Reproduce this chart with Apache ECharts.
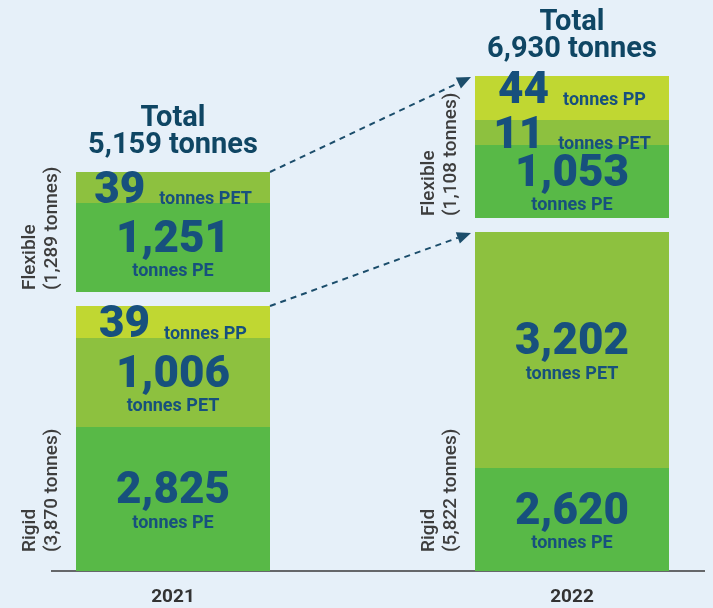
<!DOCTYPE html>
<html>
<head>
<meta charset="utf-8">
<script src="https://cdn.jsdelivr.net/npm/echarts@6/dist/echarts.min.js"></script>
<style>
  html, body { margin: 0; padding: 0; background: #e6f0f9; }
  #chart { width: 713px; height: 608px; }
</style>
</head>
<body>
<div id="chart"></div>
<script>
// categories
const years = ['2021', '2022']

// tonnes per material, used for the labels
const rigidPE = [2825, 2620]
const rigidPET = [1006, 3202]
const rigidPP = [39, null]
const flexPE = [1251, 1053]
const flexPET = [39, 11]
const flexPP = [null, 44]
const rigidTotal = [3870, 5822]
const flexTotal = [1289, 1108]
const grandTotal = [5159, 6930]

// segment lengths as drawn in the infographic (not to scale with tonnes)
const rigidPELen = [144, 103]
const rigidPETLen = [89, 236]
const rigidPPLen = [32, null]
const flexPELen = [89, 73]
const flexPETLen = [31, 25]
const flexPPLen = [null, 44]

const GAP = 14
const BAR_W = 194
const BLUE = '#17507d'
const FONT = 'Roboto'
const fmt = (v) => v.toLocaleString('en-US')

const NUM = { fontFamily: FONT, fontWeight: 900, fontSize: 44, color: BLUE, lineHeight: 44, verticalAlign: 'bottom' }
const UNIT = { fontFamily: FONT, fontWeight: 'bold', fontSize: 18, color: BLUE, lineHeight: 18 }
// token box is its content height, so bottom padding lifts the unit onto the number's baseline
const UNIT_INLINE = { ...UNIT, verticalAlign: 'bottom', padding: [0, 0, 5, 0] }

const segment = (name, lens, tonnes, color, unit, inline, extra) => ({
  name,
  type: 'bar',
  stack: 'total',
  barWidth: BAR_W,
  clip: false,
  itemStyle: { color },
  data: lens,
  label: {
    show: true,
    position: 'inside',
    offset: inline ? [0, 4] : [0, 2],
    formatter: (p) => {
      const t = tonnes[p.dataIndex]
      if (t == null) return ''
      return inline
        ? `{n|${fmt(t)}}{s|}{u|tonnes ${unit}}`
        : `{n|${fmt(t)}}\n{u|tonnes ${unit}}`
    },
    rich: { n: NUM, s: { width: 14, lineHeight: 10, verticalAlign: 'bottom' }, u: inline ? UNIT_INLINE : UNIT },
    ...extra,
  },
})

const chart = echarts.init(document.getElementById('chart'), null, { renderer: 'canvas' })

const option = {
  backgroundColor: '#e6f0f9',
  animation: false,
  grid: { left: 173, right: 141, top: 71, bottom: 37 },
  xAxis: {
    type: 'category',
    data: years,
    boundaryGap: false,
    axisLine: { show: false },
    axisTick: { show: false },
    axisLabel: { margin: 17, fontFamily: FONT, fontWeight: 'bold', fontSize: 19, color: '#333' },
  },
  yAxis: { type: 'value', min: 0, max: 500, show: false },
  series: [
    segment('Rigid PE', rigidPELen, rigidPE, '#58b947', 'PE', false),
    segment('Rigid PET', rigidPETLen, rigidPET, '#8dc13f', 'PET', false),
    segment('Rigid PP', rigidPPLen, rigidPP, '#c0d732', 'PP', true),
    {
      name: 'gap', type: 'bar', stack: 'total', barWidth: BAR_W, clip: false, silent: true,
      itemStyle: { color: 'rgba(0,0,0,0)' },
      data: years.map(() => GAP),
    },
    segment('Flexible PE', flexPELen, flexPE, '#58b947', 'PE', false),
    segment('Flexible PET', flexPETLen, flexPET, '#8dc13f', 'PET', true),
    segment('Flexible PP', flexPPLen, flexPP, '#c0d732', 'PP', true, { offset: [0, -6] }),
  ],
}

chart.setOption(option)

// overlay texts and arrows, placed from the stacked values
const sum = (arrs, i) => arrs.reduce((s, a) => s + (a[i] || 0), 0)
const px = (i, v) => chart.convertToPixel({ gridIndex: 0 }, [i, v])

const graphics = []
const base = px(0, 0)[1]
graphics.push({
  type: 'line', silent: true,
  shape: { x1: 51, y1: base, x2: 705, y2: base },
  style: { stroke: '#3a3a3a', lineWidth: 1.5 },
  z: 0,
})

const rigidTop = []
const stackTop = []
years.forEach((y, i) => {
  const rTop = sum([rigidPELen, rigidPETLen, rigidPPLen], i)
  const fBottom = rTop + GAP
  const fTop = fBottom + sum([flexPELen, flexPETLen, flexPPLen], i)
  rigidTop.push(px(i, rTop))
  stackTop.push(px(i, fTop))
  const cx = px(i, 0)[0]
  const left = cx - BAR_W / 2

  graphics.push({
    type: 'text', silent: true,
    x: cx, y: px(i, fTop)[1] - 13,
    style: {
      text: `Total\n${fmt(grandTotal[i])} tonnes`,
      fontFamily: FONT, fontWeight: 'bold', fontSize: 29, lineHeight: 27,
      fill: '#0f4664', align: 'center', verticalAlign: 'bottom',
    },
  })
  const groupText = (txt, yy) => graphics.push({
    type: 'text', silent: true,
    x: left - 13, y: yy, rotation: Math.PI / 2,
    style: {
      text: txt,
      fontFamily: FONT, fontWeight: 500, fontSize: 19, lineHeight: 22,
      fill: '#3d3d3d', align: 'left', verticalAlign: 'bottom',
    },
  })
  groupText(`Rigid\n(${fmt(rigidTotal[i])} tonnes)`, base - 19)
  groupText(`Flexible\n(${fmt(flexTotal[i])} tonnes)`, px(i, fBottom)[1] - 2)
})

// dashed arrows from the 2021 groups to the 2022 groups
const arrow = (from, to) => {
  const x1 = from[0] + BAR_W / 2
  const y1 = from[1]
  const x2 = to[0] - BAR_W / 2 - 4
  const y2 = to[1] + 1
  const a = Math.atan2(y2 - y1, x2 - x1)
  const len = 14
  const hw = 6
  const bx = x2 - len * Math.cos(a)
  const by = y2 - len * Math.sin(a)
  graphics.push({
    type: 'line', silent: true,
    shape: { x1, y1, x2: bx, y2: by },
    style: { stroke: '#1b4d6b', lineWidth: 2, lineDash: [6, 5] },
  })
  graphics.push({
    type: 'polygon', silent: true,
    shape: {
      points: [
        [x2, y2],
        [bx + hw * Math.sin(a), by - hw * Math.cos(a)],
        [bx - hw * Math.sin(a), by + hw * Math.cos(a)],
      ],
    },
    style: { fill: '#1b4d6b' },
  })
}
arrow(stackTop[0], stackTop[1])
arrow(rigidTop[0], rigidTop[1])

chart.setOption({ graphic: graphics })
</script>
</body>
</html>
